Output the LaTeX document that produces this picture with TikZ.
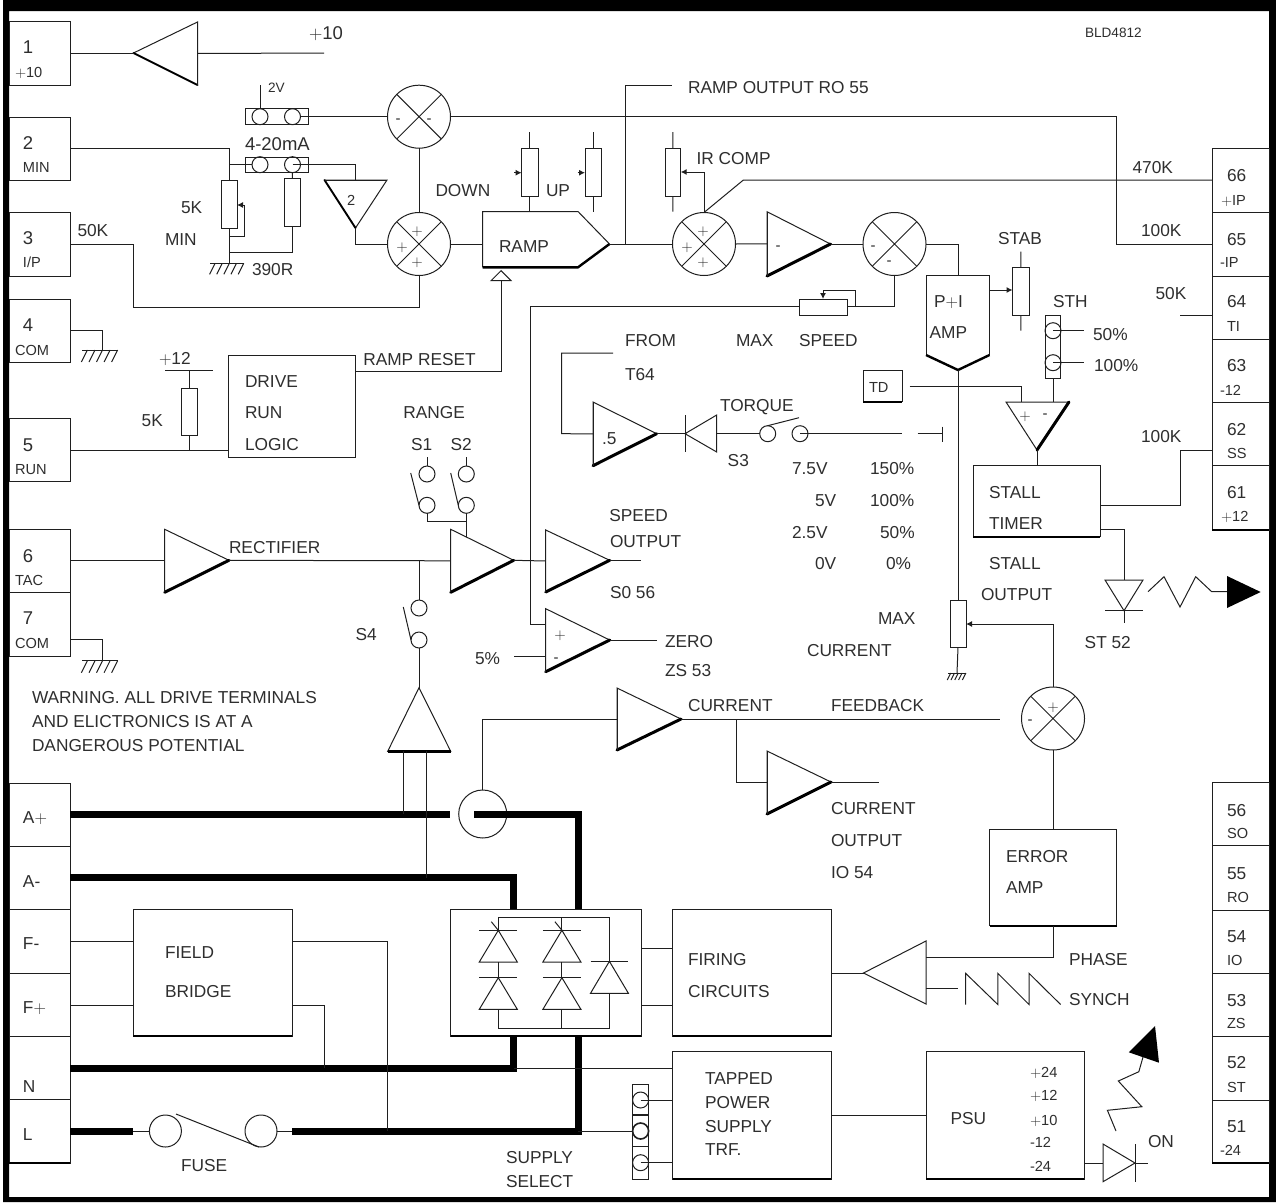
\documentclass[tikz,border=0pt]{standalone}
\usepackage{fix-cm}
\usepackage{fontspec}
\setmainfont{Liberation Sans}
\usetikzlibrary{arrows.meta,calc}
\newcount\lc
\tikzset{
  w/.style={line width=1pt,draw=black!88},
  hv/.style={line width=3pt,draw=black,line cap=round},
  hvlight/.style={line width=1.9pt,draw=black,line cap=round},
  bus/.style={line width=7pt,draw=black,line cap=butt,line join=miter},
  boxs/.style={draw=black!88,line width=1pt,rectangle,inner sep=0pt,outer sep=0pt,fill=none},
  ring/.style={draw=black!88,line width=1pt,circle,inner sep=0pt,outer sep=0pt,minimum size=16pt},
  mix/.style={draw=black!88,line width=1pt,circle,inner sep=0pt,outer sep=0pt,minimum size=63pt},
  txt/.style={inner sep=0pt,outer sep=0pt,anchor=west,text=black!82,font=\fontsize{17.3}{17.3}\selectfont,text height=12.4pt,text depth=0pt},
  big/.style={txt,font=\fontsize{18.5}{18.5}\selectfont,text height=13.3pt},
  sm/.style={txt,font=\fontsize{14.6}{14.6}\selectfont,text height=10.5pt},
  tiny/.style={txt,font=\fontsize{13.6}{13.6}\selectfont,text height=9.8pt},
  sign/.style={inner sep=0pt,outer sep=0pt,anchor=center,text=black!85,font=\fontsize{15}{15}\selectfont},
  wip/.style={w,-{Latex[length=6pt,width=6pt]}},
}
\newcommand\plus{\ensuremath{+}}
% text label with an automatic name
\newcommand\tl[4][txt]{\global\advance\lc by 1\relax\node[#1] (L\the\lc) at (#2,#3) {#4};}
% rectangle node from corners
\newcommand\bx[6][]{\node[boxs,minimum width={(#5-#3)*1pt},minimum height={(#6-#4)*1pt},#1] (#2) at ({(#3+#5)/2},{(#4+#6)/2}) {};}
% thick lower edge
\newcommand\heavy[1]{\draw[line width=2.4pt,draw=black] (#1.south west) -- (#1.south east);}
% amp: [heavy edge style], name, tip, corner, corner with heavy edge
\newcommand\amp[5][hv]{%
  \coordinate (#2-t) at (#3); \coordinate (#2-a) at (#4); \coordinate (#2-b) at (#5);
  \coordinate (#2-c) at ($(#2-a)!.5!(#2-b)$);
  \draw[w,line join=miter] (#2-t) -- (#2-a) -- (#2-b);
  \draw[#1] (#2-t) -- (#2-b);}
% amp with all thin edges
\newcommand\ampthin[4]{%
  \coordinate (#1-t) at (#2); \coordinate (#1-a) at (#3); \coordinate (#1-b) at (#4);
  \coordinate (#1-c) at ($(#1-a)!.5!(#1-b)$);
  \draw[w,line join=miter] (#1-t) -- (#1-a) -- (#1-b) -- cycle;}
% mixing junction
\newcommand\mixer[3]{\node[mix] (#1) at (#2,#3) {};
  \draw[w] (#1.north west) -- (#1.south east) (#1.north east) -- (#1.south west);}
% earth symbol: name, x, y, half width, depth
\newcommand\gnd[5]{\coordinate (#1) at (#2,#3);
  \draw[w] ($(#1)+(-#4,0)$) -- ($(#1)+(#4,0)$);
  \foreach \q in {-.7,-.28,.14,.56,.98}{\draw[w] ($(#1)+({\q*#4},0)$) -- ++({-#5*.5},#5);}}
\begin{document}
\begin{tikzpicture}[x=1pt,y=-1pt]
\useasboundingbox (0,0) rectangle (1276,1202);
\fill[black,even odd rule] (3,0) rectangle (1276,1202) (9,11) rectangle (1269,1197);

% ---------- left terminals
\bx{t1}{9}{21.7}{70}{85}
\bx{t2}{9}{117}{70}{180}
\bx{t3}{9}{212}{70}{276}
\bx{t4}{9}{299}{70}{362}
\bx{t5}{9}{418}{70}{481}
\bx{t6}{9}{529}{70}{592}
\bx{t7}{9}{592}{70}{656}
\bx{tAp}{9}{783}{70}{846}
\bx{tAm}{9}{846}{70}{909}
\bx{tFm}{9}{909}{70}{973}
\bx{tFp}{9}{973}{70}{1036}
\bx{tN}{9}{1036}{70}{1099}
\bx{tL}{9}{1099}{70}{1163}
\heavy{tL}
\tl[big]{23}{47}{1}\tl[sm]{15}{72}{\plus10}
\tl[big]{23}{143}{2}\tl[sm]{23}{167.7}{MIN}
\tl[big]{23}{238}{3}\tl[sm]{23}{262}{I/P}
\tl[big]{23}{325}{4}\tl[sm]{15}{350}{COM}
\tl[big]{23}{444.7}{5}\tl[sm]{15}{469.3}{RUN}
\tl[big]{23}{555.7}{6}\tl[sm]{15}{580.7}{TAC}
\tl[big]{23}{618}{7}\tl[sm]{15}{643}{COM}
\tl{23}{817}{A\plus}\tl{23}{881}{A-}\tl{23}{943}{F-}\tl{23}{1007.7}{F\plus}\tl{23}{1086}{N}\tl{23}{1134}{L}

% ---------- right terminals
\bx{t66}{1212}{148}{1269}{212}
\bx{t65}{1212}{212}{1269}{276}
\bx{t64}{1212}{276}{1269}{339}
\bx{t63}{1212}{339}{1269}{402}
\bx{t62}{1212}{402}{1269}{465}
\bx{t61}{1212}{465}{1269}{530}
\heavy{t61}
\bx{t56}{1212}{782}{1269}{845}
\bx{t55}{1212}{845}{1269}{910}
\bx{t54}{1212}{910}{1269}{973}
\bx{t53}{1212}{973}{1269}{1036}
\bx{t52}{1212}{1036}{1269}{1100}
\bx{t51}{1212}{1100}{1269}{1163}
\heavy{t51}
\tl{1227}{175}{66}\tl[sm]{1221}{200}{\plus IP}
\tl{1227}{239}{65}\tl[sm]{1220}{262}{-IP}
\tl{1227}{301.7}{64}\tl[sm]{1227}{326.7}{TI}
\tl{1227}{365}{63}\tl[sm]{1220}{390}{-12}
\tl{1227}{429}{62}\tl[sm]{1227}{453.3}{SS}
\tl{1227}{492}{61}\tl[sm]{1221}{516}{\plus12}
\tl{1227}{810}{56}\tl[sm]{1227}{833}{SO}
\tl{1227}{873}{55}\tl[sm]{1227}{897}{RO}
\tl{1227}{936}{54}\tl[sm]{1227}{960.7}{IO}
\tl{1227}{1000}{53}\tl[sm]{1227}{1023.7}{ZS}
\tl{1227}{1062.7}{52}\tl[sm]{1227}{1087.7}{ST}
\tl{1227}{1126.7}{51}\tl[sm]{1220}{1150.7}{-24}
\tl[tiny]{1085}{33}{BLD4812}

% ---------- +10 buffer
\amp[hvlight]{a1}{133.5,53}{197.5,22}{197.5,85}
\draw[w,line join=miter] (a1-a) -- (a1-b);
\coordinate (o1) at (324,53);
\draw[w] (t1.east |- a1-t) -- (a1-t);
\draw[w] (a1-c) -- (o1);
\tl[big]{309}{33}{\plus10}

% ---------- jumpers and min pot
\bx{j1}{245}{108.7}{308.6}{124.7}
\node[ring] (j1a) at (260,116.7) {};
\node[ring] (j1b) at (292.5,116.7) {};
\coordinate (v2) at (260,85);
\draw[w] (v2) -- (j1a.north);
\tl[tiny]{268}{88}{2V}
\bx{j2}{245}{157}{308.6}{172.5}
\node[ring] (j2a) at (260,164.7) {};
\node[ring] (j2b) at (292.5,164.7) {};
\tl[big]{245}{144}{4-20mA}

\mixer{m1}{419}{116.7}
\mixer{m2}{419}{244}
\node[sign] (sA) at (398,121) {-};
\node[sign] (sB) at (429,121) {-};
\node[sign] (sC) at (417,232) {\plus};
\node[sign] (sD) at (402,248) {\plus};
\node[sign] (sE) at (417,263) {\plus};
\draw[w] (m1.south) -- (m2.north);
\draw[w] (j1b.east) -- (m1.west);

\coordinate (n2) at (229,148);
\bx{p5k}{221}{180}{237}{228.7}
\bx{r390}{284.5}{178.7}{300}{226}
\draw[w] (t2.east |- n2) -- (n2) -- (p5k.north);
\draw[w] (n2 |- j2a) -- (j2a.west);
\amp[hvlight]{a2}{355.5,228}{387,180}{324.5,180}
\draw[w] (a2-a) -- (a2-b);
\draw[w] (j2b.center) -| (a2-c);
\draw[w] (j2b.south) -- (r390.north);
\coordinate (jg) at (229,252);
\draw[w] (r390.south) |- (jg);
\gnd{g1}{227}{263.3}{17}{11}
\draw[w] (p5k.south) -- (p5k.south |- g1);
\coordinate (w5a) at (244,236.6);
\coordinate (w5b) at (244,205);
\draw[w] (p5k.south |- w5a) -- (w5a) -- (w5b);
\draw[wip] (w5b) -- (p5k.east |- w5b);
\draw[w] (a2-t) |- (m2.west);
\tl[sm]{347}{200}{2}
\tl{181}{207}{5K}\tl{165}{239}{MIN}\tl{252}{269}{390R}

% ---------- input 3
\tl{77.5}{230}{50K}
\coordinate (n3a) at (133.5,244);
\coordinate (n3b) at (133.5,307);
\draw[w] (t3.east |- n3a) -- (n3a) -- (n3b) -| (m2.south);

% ---------- ramp
\coordinate (rW) at (482.5,244);
\coordinate (rE) at (609.5,244);
\coordinate (rTL) at (482.5,211.5);
\coordinate (rTR) at (578,211.5);
\coordinate (rBR) at (578,267.3);
\coordinate (rBL) at (482.5,267.3);
\draw[w,line join=miter] (rBL) -- (rTL) -- (rTR) -- (rE);
\draw[line width=2.4pt,line join=miter] (rE) -- (rBR) -- (rBL);
\draw[w] (m2.east) -- (rW);
\tl{499}{246}{RAMP}
\tl{435.5}{190}{DOWN}\tl{546}{190}{UP}
\bx{pD}{521.6}{148}{538}{196}
\bx{pU}{585}{148}{601.6}{196}
\coordinate (pDt) at (529.8,132);
\coordinate (pUt) at (593.3,132);
\coordinate (pDa) at (514,172.7);
\coordinate (pUa) at (577.5,172.7);
\draw[w] (pDt) -- (pD.north);
\draw[w] (pUt) -- (pU.north);
\draw[w] (pD.south) -- (pD.south |- rTL);
\draw[w] (pU.south) -- (pU.south |- rTL);
\draw[wip] (pDa) -- (pD.west |- pDa);
\draw[wip] (pUa) -- (pU.west |- pUa);

% ---------- ramp reset
\coordinate (rsT) at (501,280.7);
\draw[w,line join=miter] (491,280.7) -- (501,270.7) -- (511,280.7) -- cycle;
\coordinate (rsC) at (501,371.7);
\bx{drl}{228.7}{355}{355.7}{457.7}
\draw[w] (drl.east |- rsC) -- (rsC) -- (rsT);
\tl{363.3}{359.3}{RAMP RESET}
\tl{245}{381}{DRIVE}\tl{245}{412}{RUN}\tl{245}{444.3}{LOGIC}

% ---------- run input
\tl{159}{358}{\plus12}
\coordinate (b12a) at (165,370);
\coordinate (b12b) at (212.7,370);
\draw[w] (b12a) -- (b12b);
\bx{r5k}{181.3}{388}{197.3}{435.3}
\draw[w] (r5k.north) -- (r5k.north |- b12a);
\coordinate (n5) at (189.3,450);
\draw[w] (r5k.south) -- (n5);
\draw[w] (t5.east |- n5) -- (drl.west |- n5);
\tl{141.7}{420.7}{5K}

% ---------- earths at 4 and 7
\gnd{g4}{100}{350}{18}{12}
\coordinate (n4) at (102,330.7);
\draw[w] (t4.east |- n4) -- (n4) -- (n4 |- g4);
\gnd{g7}{100}{660.7}{18}{12}
\coordinate (n7) at (102,639.7);
\draw[w] (t7.east |- n7) -- (n7) -- (n7 |- g7);

% ---------- ir comp and summing chain
\mixer{m3}{704}{244}
\node[sign] (sF) at (703,232) {\plus};
\node[sign] (sG) at (687,248) {\plus};
\node[sign] (sH) at (703,263) {\plus};
\draw[w] (rE) -- (m3.west);
\coordinate (rb) at (625,244);
\coordinate (ro) at (672,85);
\draw[w] (rb) |- (ro);
\tl{688}{87}{RAMP OUTPUT RO 55}
\coordinate (top) at (1116.6,116.7);
\coordinate (mid) at (1116.6,244);
\draw[w] (m1.east) -- (top) -- (mid) -- (t65.west |- mid);
\tl{1141}{230}{100K}
\bx{pIR}{665}{148}{680.7}{196}
\coordinate (irT) at (672.8,132);
\coordinate (irB) at (672.8,211.6);
\draw[w] (irT) -- (pIR.north);
\draw[w] (pIR.south) -- (irB);
\coordinate (irc) at (704,172);
\draw[w] (m3.north) -- (irc);
\draw[wip] (irc) -- (pIR.east |- irc);
\tl{696.6}{158}{IR COMP}
\coordinate (fb) at (743.4,180);
\draw[w] (m3.north) -- (fb) -- (t66.west |- fb);
\tl{1132.5}{167}{470K}
\amp{a3}{830.5,244}{767,211.7}{767,276}
\draw[w] (a3-a) -- (a3-b);
\draw[w] (m3.east) -- (a3-c);
\mixer{m4}{894.5}{244}
\node[sign] (sI) at (873,248) {-};
\node[sign] (sJ) at (889,263) {-};
\draw[w] (a3-t) -- (m4.west);
\node[sign] (sK) at (778,248) {-};

% ---------- P+I
\coordinate (piN) at (958,275);
\coordinate (piS) at (958,370);
\coordinate (piE) at (989.5,290);
\draw[w,line join=miter] (926,355) -- (926,275) -- (989.5,275) -- (989.5,355);
\draw[line width=2.4pt,line join=miter] (926,355) -- (piS) -- (989.5,355);
\draw[w] (m4.east) -| (piN);
\tl{934}{301.7}{P\plus I}\tl{929.6}{332.7}{AMP}
\bx{pST}{1012.5}{267}{1029}{315}
\coordinate (stT) at (1020.8,251.7);
\coordinate (stB) at (1020.8,330.7);
\draw[w] (stT) -- (pST.north);
\draw[w] (pST.south) -- (stB);
\draw[wip] (piE) -- (pST.west |- piE);
\tl{998}{238}{STAB}

% ---------- speed pot
\bx{pS}{799}{299}{847}{315}
\coordinate (spR) at (894.5,306.7);
\draw[w] (m4.south) -- (spR) -- (pS.east |- spR);
\coordinate (spA) at (855,290.7);
\coordinate (spB) at (823,290.7);
\draw[w] (pS.east -| spA) -- (spA) -- (spB);
\draw[wip] (spB) -- (pS.north -| spB);
\coordinate (spL) at (530,306.7);
\coordinate (spD) at (530,624);
\draw[w] (pS.west |- spL) -- (spL) -- (spD);
\tl{625}{340}{FROM}\tl{625}{374}{T64}\tl{736}{340}{MAX}\tl{799}{340}{SPEED}

% ---------- torque
\amp{a5}{656.7,433.7}{593,402}{593,465.7}
\draw[w] (a5-a) -- (a5-b);
\coordinate (frA) at (613,353);
\coordinate (frB) at (561.7,353);
\coordinate (frC) at (561.7,433.7);
\draw[w] (frA) -- (frB) -- (frC) -- (a5-c);
\tl{602}{438}{.5}
\coordinate (dK) at (685,433.7);
\coordinate (dA) at (716.7,433.7);
\draw[w] (a5-t) -- (dK);
\draw[w] (685,415) -- (685,452);
\draw[w,line join=miter] (dK) -- (716.7,415) -- (716.7,452) -- cycle;
\node[ring] (s3a) at (767.7,433.7) {};
\node[ring] (s3b) at (800,433.7) {};
\draw[w] (dA) -- (s3a.west);
\coordinate (s3l) at (799,417.7);
\draw[w] (s3a.north) -- (s3l);
\coordinate (tq1) at (901.7,433.7);
\coordinate (tq2) at (917.7,433.7);
\coordinate (tq3) at (942,433.7);
\draw[w] (s3b.center) -- (tq1);
\draw[w] (tq2) -- (tq3);
\draw[w] (942,426.7) -- (942,441.7);
\tl{720}{405}{TORQUE}\tl{727.7}{460.7}{S3}
\tl{792}{468}{7.5V}\tl{870}{468}{150\%}
\tl{815}{500}{5V}\tl{870}{500}{100\%}
\tl{792}{532}{2.5V}\tl{880}{532}{50\%}
\tl{815}{563}{0V}\tl{886}{563}{0\%}

% ---------- rectifier chain
\amp{a6}{229,560.3}{164.7,529.3}{164.7,592.3}
\draw[w] (a6-a) -- (a6-b);
\draw[w] (t6.east |- a6-c) -- (a6-c);
\tl{229}{547}{RECTIFIER}
\amp{a7}{513.7,560.3}{450.7,529.3}{450.7,592.3}
\draw[w] (a7-a) -- (a7-b);
\draw[w] (a6-t) -- (a7-c);
\amp{a8}{609.7,560.3}{545.7,530}{545.7,592}
\draw[w] (a8-a) -- (a8-b);
\draw[w] (a7-t) -- (a8-c);
\coordinate (so) at (641,560.3);
\draw[w] (a8-t) -- (so);
\tl{609.3}{515}{SPEED}\tl{610}{541}{OUTPUT}\tl{610}{592.7}{S0 56}
\amp{a9}{609.7,640}{545.7,608.7}{545.7,671.7}
\draw[w] (a9-a) -- (a9-b);
\draw[w] (spD) -- (spD -| a9-a);
\node[sign] (sL) at (560,636) {\plus};
\node[sign] (sM) at (556,660.7) {-};
\coordinate (p5) at (514,656);
\draw[w] (p5) -- (p5 -| a9-a);
\tl{475}{658}{5\%}
\coordinate (ze) at (656.7,640);
\draw[w] (a9-t) -- (ze);
\tl{665}{641.7}{ZERO}\tl{665}{670.7}{ZS 53}

% ---------- range switches
\tl{403.3}{412}{RANGE}\tl{411}{444.3}{S1}\tl{450.7}{444.3}{S2}
\node[ring] (s1a) at (427,474) {};
\node[ring] (s1b) at (427,505.3) {};
\node[ring] (s2a) at (466.3,474) {};
\node[ring] (s2b) at (466.3,505.3) {};
\coordinate (s1t) at (427,457);
\coordinate (s2t) at (466.3,457);
\draw[w] (s1t) -- (s1a.north);
\draw[w] (s2t) -- (s2a.north);
\coordinate (s1l) at (410.7,473);
\coordinate (s2l) at (450.7,473);
\draw[w] (s1l) -- (s1b.west);
\draw[w] (s2l) -- (s2b.west);
\coordinate (rj) at (466.3,521);
\coordinate (ra) at (466.3,536.7);
\draw[w] (s1b.south) |- (rj);
\draw[w] (s2b.south) -- (ra);

% ---------- S4
\node[ring] (s4a) at (419,608) {};
\node[ring] (s4b) at (419,640) {};
\coordinate (s4j) at (419,560.3);
\draw[w] (s4j) -- (s4a.north);
\coordinate (s4l) at (403.3,607);
\draw[w] (s4l) -- (s4b.west);
\tl{355.7}{634}{S4}
\ampthin{a10}{419,687.7}{387.7,751.3}{450.7,751.3}
\draw[line width=2.4pt] (a10-a) -- (a10-b);
\draw[w] (s4b.south) -- (a10-t);

% ---------- warning
\tl{32}{697}{WARNING. ALL DRIVE TERMINALS}
\tl{32}{721}{AND ELICTRONICS IS AT A}
\tl{32}{745}{DANGEROUS POTENTIAL}

% ---------- current feedback
\amp{a11}{681,719}{617,688}{617,750}
\draw[w] (a11-a) -- (a11-b);
\node[ring,minimum size=48pt] (ct) at (482.7,814) {};
\draw[w] (ct.north) |- (a11-c);
\coordinate (cf) at (1000,719);
\draw[w] (a11-t) -- (cf);
\tl{688}{705}{CURRENT}\tl{831}{705}{FEEDBACK}
\amp{a12}{831,782}{767,751}{767,814}
\draw[w] (a12-a) -- (a12-b);
\coordinate (cb) at (736,719);
\draw[w] (cb) |- (a12-c);
\coordinate (co) at (879,782);
\draw[w] (a12-t) -- (co);
\tl{831}{808}{CURRENT}\tl{831}{840}{OUTPUT}\tl{831}{872}{IO 54}
\mixer{m5}{1053}{718.5}
\node[sign] (sN) at (1053,708) {\plus};
\node[sign] (sO) at (1030,722) {-};
\tl{878}{618}{MAX}\tl{807}{650}{CURRENT}

% ---------- max current pot
\bx{pM}{950}{600}{966}{647.3}
\draw[w] (piS) -- (pM.north);
\gnd{g5}{957}{673}{9}{7}
\draw[w] (pM.south) -- (g5);
\coordinate (mw) at (1053,624);
\draw[w] (m5.north) -- (mw);
\draw[wip] (mw) -- (pM.east |- mw);

% ---------- TD, STH, comparator, stall timer
\bx{td}{863}{370}{902}{401.7}
\heavy{td}
\tl[sm]{869}{387.7}{TD}
\ampthin{a13}{1037,450}{1069,402}{1006,402}
\draw[hv] (a13-t) -- (a13-a);
\coordinate (tdA) at (909.5,386);
\coordinate (tdB) at (1021.7,386);
\draw[w] (tdA) -- (tdB) -- (tdB |- a13-a);
\node[sign] (sP) at (1025,417) {\plus};
\node[sign] (sQ) at (1045,416) {-};
\tl{1053}{301.7}{STH}
\bx{jS}{1045.5}{315}{1060.6}{378.3}
\node[ring] (jSa) at (1053,330.7) {};
\node[ring] (jSb) at (1053,362.7) {};
\coordinate (e50) at (1084.4,330.7);
\coordinate (e100) at (1084.4,362.7);
\draw[w] (jSa.center) -- (e50);
\draw[w] (jSb.center) -- (e100);
\draw[w] (jS.south) -- (jS.south |- a13-a);
\tl{1093}{334}{50\%}\tl{1094}{365}{100\%}
\bx{st}{973.3}{465.3}{1100}{536.7}
\heavy{st}
\draw[w] (a13-t) -- (a13-t |- st.north);
\tl{989}{492}{STALL}\tl{989}{523}{TIMER}
\tl{989}{563}{STALL}\tl{981}{594}{OUTPUT}
\coordinate (sta) at (1180,505);
\coordinate (stb) at (1180,450);
\draw[w] (st.east |- sta) -- (sta) -- (stb) -- (t62.west |- stb);
\tl{1141}{436.7}{100K}
\coordinate (nA) at (1124,529.3);
\coordinate (nB) at (1124,580);
\coordinate (nK) at (1124,610.7);
\coordinate (nE) at (1124,623);
\draw[w] (st.east |- nA) -- (nA) -- (nB);
\draw[w,line join=miter] (1105,580) -- (1143,580) -- (nK) -- cycle;
\draw[w] (1105,610.7) -- (1143,610.7);
\draw[w] (nK) -- (nE);
\tl{1084.7}{642}{ST 52}
\draw[w,line join=miter] (1148,591.7) -- (1164,576.7) -- (1180,607) -- (1195.7,576.7) -- (1211.7,591.7) -- (1227,591.7);
\fill[black] (1227,576) -- (1260.7,592) -- (1227,608) -- cycle;

% ---------- error amp, firing
\bx{ea}{989.5}{829}{1116.6}{925.7}
\heavy{ea}
\draw[w] (m5.south) -- (ea.north -| m5.south);
\tl{1006}{856}{ERROR}\tl{1006}{887}{AMP}
\ampthin{a14}{863.5,973}{926,941}{926,1004}
\coordinate (phA) at (1053,957.3);
\draw[w] (ea.south -| phA) -- (phA) -- (phA -| a14-a);
\bx{fc}{672.7}{909.3}{831}{1036}
\heavy{fc}
\draw[w] (a14-t) -- (fc.east |- a14-t);
\tl{688}{959}{FIRING}\tl{688}{991}{CIRCUITS}
\coordinate (syA) at (958,988.7);
\draw[w] (syA -| a14-a) -- (syA);
\draw[w,line join=miter] (965.6,1004.5) -- (965.6,973.3) -- (997.8,1004.5) -- (997.8,973.3) -- (1029,1004.5) -- (1029,973.3) -- (1060.6,1004.5);
\tl{1069}{959}{PHASE}\tl{1069}{999}{SYNCH}

% ---------- power bridge
\bx{br}{450.8}{909.3}{641}{1036}
\draw[line width=2pt] (br.south west) -- (br.south east);
\coordinate (f1) at (641,948.7);
\coordinate (f2) at (641,1005);
\draw[w] (f1) -- (fc.west |- f1);
\draw[w] (f2) -- (fc.west |- f2);
\coordinate (rT1) at (498.3,917.3);
\coordinate (rT3) at (609.4,917.3);
\coordinate (rB1) at (498.3,1028.3);
\coordinate (rB3) at (609.4,1028.3);
\draw[w,line join=miter] (rT1) -- (rT3) -- (609.4,961.3);
\draw[w,line join=miter] (rB1) -- (rB3) -- (609.4,993.3);
\foreach \cx in {498.3,561.9}{
  \draw[w] (\cx,917.3) -- (\cx,930.3);
  \draw[w] (\cx,962) -- (\cx,977.7);
  \draw[w] (\cx,1009.3) -- (\cx,1028.3);
  \draw[w] (\cx-19,930.3) -- (\cx+19,930.3);
  \draw[w,line join=miter] (\cx,930.3) -- (\cx-19,962) -- (\cx+19,962) -- cycle;
  \draw[w] (\cx-19,977.7) -- (\cx+19,977.7);
  \draw[w,line join=miter] (\cx,977.7) -- (\cx-19,1009.3) -- (\cx+19,1009.3) -- cycle;
  \draw[w] (\cx-7,921.7) -- (\cx,930.3);
}
\draw[w] (590.5,961.3) -- (628.4,961.3);
\draw[w,line join=miter] (609.4,961.3) -- (590.5,993.3) -- (628.4,993.3) -- cycle;

% ---------- buses
\coordinate (ap1) at (450,814);
\coordinate (ap2) at (474.3,814);
\coordinate (ap3) at (578,814);
\coordinate (am1) at (513.5,877.7);
\coordinate (nn1) at (513.5,1068);
\coordinate (ln1) at (133.4,1131);
\coordinate (ln2) at (292,1131);
\coordinate (ln3) at (578,1131);
\draw[bus] (tAp.east |- ap1) -- (ap1);
\draw[bus] (ap2) -- (ap3) -- (ap3 |- br.north);
\draw[bus] (tAm.east |- am1) -- (am1) -- (am1 |- br.north);
\draw[bus] (tN.east |- nn1) -- (nn1) -- (nn1 |- br.south);
\draw[bus] (tL.east |- ln1) -- (ln1);
\draw[bus] (ln2) -- (ln3) -- (ln3 |- br.south);
\coordinate (cs1) at (403.3,814);
\coordinate (cs2) at (426.5,877.7);
\draw[w] (cs1 |- a10-a) -- (cs1);
\draw[w] (cs2 |- a10-a) -- (cs2);

% ---------- fuse
\node[ring,minimum size=32pt] (fa) at (165.4,1131) {};
\node[ring,minimum size=32pt] (fb2) at (261,1131) {};
\draw[w] (ln1) -- (fa.west);
\draw[w] (fb2.east) -- (ln2);
\coordinate (fl1) at (176,1114);
\coordinate (fl2) at (259,1147);
\draw[w] (fl1) -- (fl2);
\tl{181}{1165}{FUSE}

% ---------- field bridge
\bx{fld}{133.4}{909.3}{292}{1036}
\heavy{fld}
\tl{165}{952}{FIELD}\tl{165}{991}{BRIDGE}
\coordinate (fm) at (133.4,941);
\coordinate (fp) at (133.4,1005);
\draw[w] (tFm.east |- fm) -- (fm);
\draw[w] (tFp.east |- fp) -- (fp);
\coordinate (fr1) at (387,941);
\coordinate (fr2) at (324,1005);
\draw[w] (fld.east |- fr1) -- (fr1) -- (fr1 |- ln1);
\draw[w] (fld.east |- fr2) -- (fr2) -- (fr2 |- nn1);

% ---------- transformer and supply select
\bx{trf}{672.7}{1051.7}{831}{1179}
\heavy{trf}
\tl{705}{1078}{TAPPED}\tl{705}{1102}{POWER}\tl{705}{1126.7}{SUPPLY}\tl{705}{1149}{TRF.}
\draw[w] (nn1) -- (trf.west |- nn1);
\bx{ss}{632.6}{1084}{648.6}{1179}
\bx[line width=1.4pt]{ssm}{632.6}{1115}{648.6}{1146.7}
\node[ring] (ssa) at (640.6,1100) {};
\node[ring,line width=1.6pt] (ssb) at (640.6,1131) {};
\node[ring] (ssc) at (640.6,1162.7) {};
\draw[w] (ln3) -- (ssb.west);
\draw[w] (ssa.center) -- (trf.west |- ssa);
\draw[w] (ssc.center) -- (trf.west |- ssc);
\tl{506}{1157}{SUPPLY}\tl{506}{1181}{SELECT}

% ---------- PSU
\bx{psu}{926}{1051.7}{1084.4}{1179}
\heavy{psu}
\draw[w] (trf.east |- psu.west) -- (psu.west);
\tl{950.5}{1118}{PSU}
\tl[sm]{1030}{1072}{\plus24}\tl[sm]{1030}{1095.7}{\plus12}\tl[sm]{1030}{1120}{\plus10}\tl[sm]{1030}{1142.7}{-12}\tl[sm]{1030}{1166.7}{-24}
\coordinate (lA) at (1103,1163);
\coordinate (lK) at (1135,1163);
\coordinate (lE) at (1147.6,1163);
\draw[w] (psu.east |- lA) -- (lA);
\draw[w,line join=miter] (lK) -- (1103,1144) -- (1103,1181.7) -- cycle;
\draw[w] (1135,1144) -- (1135,1181.7);
\draw[w] (lK) -- (lE);
\tl{1148}{1141.7}{ON}
\draw[w,line join=miter] (1116,1131) -- (1107.4,1110.3) -- (1141.8,1106.7) -- (1118.3,1081) -- (1138.8,1071.7) -- (1143,1057);
\fill[black] (1128.8,1052.3) -- (1155,1026) -- (1159,1062.7) -- cycle;

% ---------- 50K at 64
\tl{1155.6}{293}{50K}
\coordinate (i64) at (1180,315);
\draw[w] (i64) -- (t64.west |- i64);
\end{tikzpicture}
\end{document}
